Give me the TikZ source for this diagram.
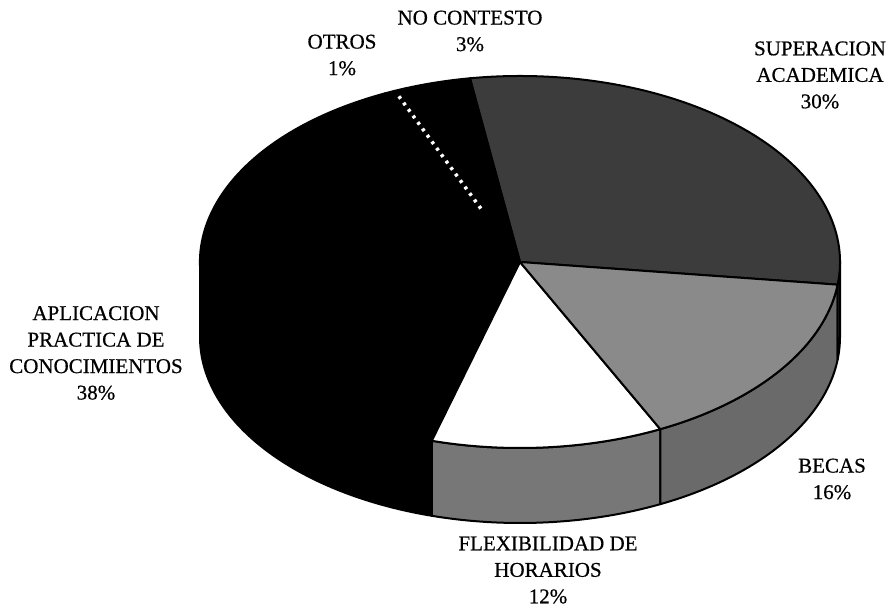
\documentclass[tikz,border=0pt]{standalone}
\usepackage{fontspec}
\setmainfont[FakeBold=0.6]{Liberation Serif}
\usetikzlibrary{calc}
\definecolor{supgrey}{HTML}{3C3C3C}
\definecolor{becgrey}{HTML}{8A8A8A}
\definecolor{becside}{HTML}{6A6A6A}
\definecolor{flexside}{HTML}{777777}
\tikzstyle{slice} = [draw=black, line width=2pt, line join=round]
\tikzstyle{pielabel} = [align=center, inner sep=0pt, font=\fontsize{21}{26.5}\selectfont]

\begin{document}
\begin{tikzpicture}[x=1pt, y=1pt]
\useasboundingbox (0,0) rectangle (888,612);
\coordinate (c) at (520,350);

% ------------------------- side walls -------------------------

% ----- wall: aplicacion
\filldraw[slice, fill=black] ($(c)+(180:320pt and 186pt)$) arc[start angle=180, end angle=254, x radius=320pt, y radius=186pt] -- ++(0,-75) arc[start angle=254, end angle=180, x radius=320pt, y radius=186pt] -- cycle;
% ----- wall: flexibilidad
\filldraw[slice, fill=flexside] ($(c)+(254:320pt and 186pt)$) arc[start angle=254, end angle=296, x radius=320pt, y radius=186pt] -- ++(0,-75) arc[start angle=296, end angle=254, x radius=320pt, y radius=186pt] -- cycle;
% ----- wall: becas
\filldraw[slice, fill=becside] ($(c)+(296:320pt and 186pt)$) arc[start angle=296, end angle=353, x radius=320pt, y radius=186pt] -- ++(0,-75) arc[start angle=353, end angle=296, x radius=320pt, y radius=186pt] -- cycle;
% ----- wall: superacion
\filldraw[slice, fill=supgrey] ($(c)+(353:320pt and 186pt)$) arc[start angle=353, end angle=360, x radius=320pt, y radius=186pt] -- ++(0,-75) arc[start angle=360, end angle=353, x radius=320pt, y radius=186pt] -- cycle;

% ------------------------- top slices -------------------------

\filldraw[slice, fill=supgrey] (c) -- ($(c)+(-7:320pt and 186pt)$) arc[start angle=-7, end angle=99, x radius=320pt, y radius=186pt] -- cycle;
\filldraw[slice, fill=black] (c) -- ($(c)+(99:320pt and 186pt)$) arc[start angle=99, end angle=111, x radius=320pt, y radius=186pt] -- cycle;
\filldraw[slice, fill=black] (c) -- ($(c)+(111:320pt and 186pt)$) arc[start angle=111, end angle=115, x radius=320pt, y radius=186pt] -- cycle;
\filldraw[slice, fill=black] (c) -- ($(c)+(115:320pt and 186pt)$) arc[start angle=115, end angle=254, x radius=320pt, y radius=186pt] -- cycle;
\filldraw[slice, fill=white] (c) -- ($(c)+(254:320pt and 186pt)$) arc[start angle=254, end angle=296, x radius=320pt, y radius=186pt] -- cycle;
\filldraw[slice, fill=becgrey] (c) -- ($(c)+(296:320pt and 186pt)$) arc[start angle=296, end angle=353, x radius=320pt, y radius=186pt] -- cycle;
% otros stripes
\draw[white, line width=3.5pt, dash pattern=on 3pt off 5pt] ($(c)+(113:310pt and 180pt)$) -- ($(c)+(113:95pt and 55pt)$);

% ------------------------- nodes -------------------------

% ----- node: 0
\node(0)[pielabel] at (820,537) {SUPERACION\\ACADEMICA\\30\%};
% ----- node: 1
\node(1)[pielabel] at (832,133) {BECAS\\16\%};
% ----- node: 2
\node(2)[pielabel] at (548,42) {FLEXIBILIDAD DE\\HORARIOS\\12\%};
% ----- node: 3
\node(3)[pielabel] at (96,259) {APLICACION\\PRACTICA DE\\CONOCIMIENTOS\\38\%};
% ----- node: 4
\node(4)[pielabel] at (342,557) {OTROS\\1\%};
% ----- node: 5
\node(5)[pielabel] at (470,581) {NO CONTESTO\\3\%};

\end{tikzpicture}
\end{document}
